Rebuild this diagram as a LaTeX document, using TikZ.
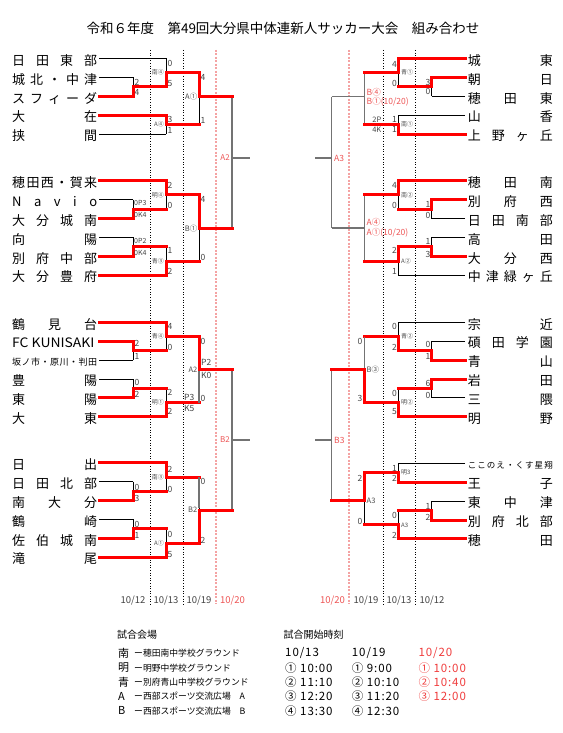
\documentclass[tikz,border=0pt]{standalone}
\usepackage{fontspec}
\setmainfont{Noto Sans CJK JP}
\usetikzlibrary{calc}
\definecolor{lred}{HTML}{FF0000}
\definecolor{pinkr}{HTML}{F4A3A3}
\definecolor{lblred}{HTML}{EE5555}
\definecolor{legred}{HTML}{F03C3C}
\definecolor{scg}{HTML}{444444}
\newcounter{nn}
\newcommand\jst[2]{\hbox to #1{#2}}
\newcommand\lab[3]{\stepcounter{nn}\node[#1] (n\arabic{nn}) at (#2) {#3};}
\newcommand\scL[3]{\lab{scl}{#1,#2}{#3}}
\newcommand\scR[3]{\lab{scr}{#1,#2}{#3}}
\newcommand\tmL[3]{\node[tname,anchor=west] (t#1) at (12,#2+1.8) {\jst{85pt}{#3}}; \coordinate (#1) at (99,#2);}
\newcommand\tmR[3]{\node[tname,anchor=east] (t#1) at (553,#2+1.8) {\jst{85pt}{#3}}; \coordinate (#1) at (465,#2);}
% match macros: #1 name, #2 X, #3 yout, #4 top src, #5 top hstyle, #6 bot src, #7 bot hstyle
\newcommand\mT[7]{%
  \coordinate (#1) at (#2,#3);
  \draw[L] (#6 -| #1) -- (#1);
  \draw[#7] (#6) -- (#6 -| #1);
  \draw[#5] (#4) -- (#4 -| #1);
  \draw[W] (#4 -| #1) -- (#1);}
\newcommand\mB[7]{%
  \coordinate (#1) at (#2,#3);
  \draw[L] (#4 -| #1) -- (#1);
  \draw[#5] (#4) -- (#4 -| #1);
  \draw[#7] (#6) -- (#6 -| #1);
  \draw[W] (#6 -| #1) -- (#1);}
\newcommand\mU[7]{%
  \coordinate (#1) at (#2,#3);
  \draw[G] (#4 -| #1) -- (#6 -| #1);
  \draw[#5] (#4) -- (#4 -| #1);
  \draw[#7] (#6) -- (#6 -| #1);}
\tikzset{
 W/.style={draw=lred, line width=3pt, line cap=rect},
 L/.style={draw=black, line width=0.9pt},
 G/.style={draw=black!55, line width=1.1pt},
 dotk/.style={draw=black, line width=0.8pt, dash pattern=on 1pt off 1.6pt},
 dotr/.style={draw=pinkr, line width=1.8pt, dash pattern=on 2pt off 1.5pt},
 tname/.style={inner sep=0pt, font=\fontsize{13}{13}\selectfont},
 scl/.style={inner sep=0pt, anchor=west, text=scg, font=\fontsize{8.5}{8.5}\selectfont},
 scr/.style={inner sep=0pt, anchor=east, text=scg, font=\fontsize{8.5}{8.5}\selectfont},
 pkl/.style={inner sep=0pt, anchor=west, text=scg, font=\fontsize{7}{7}\selectfont},
 pkr/.style={inner sep=0pt, anchor=east, text=scg, font=\fontsize{7.5}{7.5}\selectfont},
 tgl/.style={inner sep=0pt, anchor=east, text=black!70, font=\fontsize{6}{6}\selectfont},
 tgr/.style={inner sep=0pt, anchor=west, text=black!70, font=\fontsize{6}{6}\selectfont},
 tgL/.style={inner sep=0pt, anchor=east, text=black!70, font=\fontsize{7.5}{7.5}\selectfont},
 tgR/.style={inner sep=0pt, anchor=west, text=black!70, font=\fontsize{7.5}{7.5}\selectfont},
 rtl/.style={inner sep=0pt, anchor=east, text=lblred, font=\fontsize{8}{8}\selectfont},
 rtr/.style={inner sep=0pt, anchor=west, text=lblred, font=\fontsize{8.5}{8.5}\selectfont},
 date/.style={inner sep=0pt, text=scg, font=\fontsize{9.5}{9.5}\selectfont},
 leg/.style={inner sep=0pt, anchor=west, font=\fontsize{10}{10}\selectfont},
 vsym/.style={inner sep=0pt, anchor=west, font=\fontsize{11}{11}\selectfont},
 vtxt/.style={inner sep=0pt, anchor=west, font=\fontsize{8.8}{8.8}\selectfont},
 tim/.style={inner sep=0pt, anchor=west, font=\fontsize{11.5}{11.5}\selectfont\addfontfeatures{LetterSpace=8}},
}
\begin{document}
\begin{tikzpicture}[x=1pt,y=-1pt]
\fill[white] (0,0) rectangle (562,733);
\useasboundingbox (0,0) rectangle (562,733);
% title
\node[inner sep=0pt, font=\fontsize{13.5}{13.5}\selectfont] (title) at (283,28) {令和６年度　第49回大分県中体連新人サッカー大会　組み合わせ};
% dotted day lines
\foreach \xx in {150,183,383,415} {\draw[dotk] (\xx,50) -- (\xx,604);}
\foreach \xx in {216,349} {\draw[dotr] (\xx,50) -- (\xx,604);}
% left teams
\tmL{L1}{58.5}{日\hfill 田\hfill 東\hfill 部}
\tmL{L2}{77.4}{城\hfill 北\hfill ・\hfill 中\hfill 津}
\tmL{L3}{96.3}{ス\hfill フ\hfill ィ\hfill ー\hfill ダ}
\tmL{L4}{115.2}{大\hfill 在}
\tmL{L5}{134.1}{挟\hfill 間}
\tmL{L6}{180.7}{穂\hfill 田\hfill 西\hfill ・\hfill 賀\hfill 来}
\tmL{L7}{199.6}{N\hfill a\hfill v\hfill i\hfill o}
\tmL{L8}{218.5}{大\hfill 分\hfill 城\hfill 南}
\tmL{L9}{237.4}{向\hfill 陽}
\tmL{L10}{256.3}{別\hfill 府\hfill 中\hfill 部}
\tmL{L11}{275.2}{大\hfill 分\hfill 豊\hfill 府}
\tmL{L12}{322.3}{鶴\hfill 見\hfill 台}
\tmL{L13}{341.2}{\scalebox{1.07}[1]{FC KUNISAKI}\hfill}
\tmL{L14}{360.1}{\fontsize{9}{9}\selectfont 坂\hfill ノ\hfill 市\hfill ・\hfill 原\hfill 川\hfill ・\hfill 判\hfill 田}
\tmL{L15}{379}{豊\hfill 陽}
\tmL{L16}{397.9}{東\hfill 陽}
\tmL{L17}{416.8}{大\hfill 東}
\tmL{L18}{462.7}{日\hfill 出}
\tmL{L19}{481.6}{日\hfill 田\hfill 北\hfill 部}
\tmL{L20}{500.5}{南\hfill 大\hfill 分}
\tmL{L21}{519.4}{鶴\hfill 崎}
\tmL{L22}{538.3}{佐\hfill 伯\hfill 城\hfill 南}
\tmL{L23}{557.2}{滝\hfill 尾}
% right teams
\tmR{R1}{58.5}{城\hfill 東}
\tmR{R2}{77.4}{朝\hfill 日}
\tmR{R3}{96.3}{穂\hfill 田\hfill 東}
\tmR{R4}{115.2}{山\hfill 香}
\tmR{R5}{134.1}{上\hfill 野\hfill ヶ\hfill 丘}
\tmR{R6}{180.7}{穂\hfill 田\hfill 南}
\tmR{R7}{199.6}{別\hfill 府\hfill 西}
\tmR{R8}{218.5}{日\hfill 田\hfill 南\hfill 部}
\tmR{R9}{237.4}{高\hfill 田}
\tmR{R10}{256.3}{大\hfill 分\hfill 西}
\tmR{R11}{275.2}{中\hfill 津\hfill 緑\hfill ヶ\hfill 丘}
\tmR{R12}{322.3}{宗\hfill 近}
\tmR{R13}{341.2}{碩\hfill 田\hfill 学\hfill 園}
\tmR{R14}{360.1}{青\hfill 山}
\tmR{R15}{379}{岩\hfill 田}
\tmR{R16}{397.9}{三\hfill 隈}
\tmR{R17}{416.8}{明\hfill 野}
\tmR{R18}{463.3}{\fontsize{8.5}{8.5}\selectfont こ\hfill こ\hfill の\hfill え\hfill ・\hfill く\hfill す\hfill 星\hfill 翔}
\tmR{R19}{482.2}{王\hfill 子}
\tmR{R20}{501.1}{東\hfill 中\hfill 津}
\tmR{R21}{520}{別\hfill 府\hfill 北\hfill 部}
\tmR{R22}{538.9}{穂\hfill 田}
% left matches
\mB{mL1}{133}{86.8}{L2}{L}{L3}{W}
\mB{mL2}{166}{72.7}{L1}{L}{mL1}{W}
\mT{mL3}{166}{124.6}{L4}{W}{L5}{L}
\mT{mL4}{199}{96.5}{mL2}{W}{mL3}{W}
\mB{mL5}{133}{209}{L7}{L}{L8}{W}
\mT{mL6}{166}{194.8}{L6}{W}{mL5}{W}
\mB{mL7}{133}{246.8}{L9}{L}{L10}{W}
\mB{mL8}{166}{261}{mL7}{W}{L11}{W}
\mT{mL9}{199}{228}{mL6}{W}{mL8}{W}
\mT{mL10}{133}{350.6}{L13}{W}{L14}{L}
\mT{mL11}{166}{336.5}{L12}{W}{mL10}{W}
\mB{mL12}{133}{388.4}{L15}{L}{L16}{W}
\mB{mL13}{166}{402.6}{mL12}{W}{L17}{W}
\mT{mL14}{199}{369.5}{mL11}{W}{mL13}{W}
\mB{mL15}{133}{491}{L19}{L}{L20}{W}
\mT{mL16}{166}{477}{L18}{W}{mL15}{W}
\mB{mL17}{133}{528.9}{L21}{L}{L22}{W}
\mB{mL18}{166}{543}{mL17}{W}{L23}{W}
\mB{mL19}{199}{510}{mL16}{W}{mL18}{W}
\draw[draw=white, line width=1.1pt, shorten >=1.6pt] (mL13 -| mL14) -- (mL14);
\draw[G, shorten >=1.6pt] (mL13 -| mL14) -- (mL14);
\draw[draw=white, line width=1.1pt, shorten >=1.6pt] (mL16 -| mL19) -- (mL19);
\draw[G, shorten >=1.6pt] (mL16 -| mL19) -- (mL19);
\mU{sL1}{232}{158}{mL4}{W}{mL9}{W}
\mU{sL2}{232}{440}{mL14}{W}{mL19}{W}
\coordinate (eL1) at (250,158);
\coordinate (eL2) at (250,440);
\draw[G] (sL1) -- (eL1);
\draw[G] (sL2) -- (eL2);
% right matches
\mT{mR1}{431.7}{86.8}{R2}{W}{R3}{L}
\mT{mR2}{398.3}{72.7}{R1}{W}{mR1}{W}
\mB{mR3}{398.3}{124.6}{R4}{L}{R5}{W}
\mU{mR4}{364.3}{96.7}{mR2}{W}{mR3}{W}
\mT{mR5}{431.7}{209}{R7}{W}{R8}{L}
\mT{mR6}{398.3}{194.8}{R6}{W}{mR5}{W}
\mB{mR7}{431.7}{246.8}{R9}{L}{R10}{W}
\mT{mR8}{398.3}{261}{mR7}{W}{R11}{L}
\mU{mR9}{364.3}{228}{mR6}{W}{mR8}{W}
\mB{mR10}{431.7}{350.6}{R13}{L}{R14}{W}
\mB{mR11}{398.3}{336.5}{R12}{L}{mR10}{W}
\mT{mR12}{431.7}{388.4}{R15}{W}{R16}{L}
\mB{mR13}{398.3}{402.6}{mR12}{W}{R17}{W}
\mB{mR14}{364.3}{369.5}{mR11}{W}{mR13}{W}
\draw[draw=white, line width=1.1pt, shorten >=1.6pt] (mR11 -| mR14) -- (mR14);
\draw[G, shorten >=1.6pt] (mR11 -| mR14) -- (mR14);
\mB{mR15}{398.3}{472.7}{R18}{L}{R19}{W}
\mB{mR16}{431.7}{510.5}{R20}{L}{R21}{W}
\mB{mR17}{398.3}{524.7}{mR16}{W}{R22}{W}
\mT{mR18}{364.3}{500.7}{mR15}{W}{mR17}{W}
\mU{sR1}{331.7}{158}{mR4}{G}{mR9}{G}
\mU{sR2}{331.7}{440}{mR14}{W}{mR18}{W}
\coordinate (eR1) at (315,158);
\coordinate (eR2) at (315,440);
\draw[G] (sR1) -- (eR1);
\draw[G] (sR2) -- (eR2);
% left scores
\scL{134.5}{82}{2} \scL{134.5}{92.7}{4}
\scL{167.5}{63.3}{0} \scL{167.5}{83.3}{5}
\scL{167.5}{119.3}{3} \scL{167.5}{130}{1}
\scL{200.5}{77.3}{4} \scL{200.5}{120}{1}
\scL{167.5}{185}{2} \scL{167.5}{205.7}{0}
\lab{pkl}{134,203.3}{0P3} \lab{pkl}{134,215}{0K4}
\lab{pkl}{134,241}{0P2} \lab{pkl}{134,252.7}{0K4}
\scL{167.5}{250.7}{1} \scL{167.5}{271.7}{2}
\scL{200.5}{199.3}{4} \scL{200.5}{257.3}{0}
\scL{134.5}{343.3}{2} \scL{134.5}{356.7}{1}
\scL{167.5}{326.7}{4} \scL{167.5}{347.7}{0}
\scL{134.5}{382.7}{0} \scL{134.5}{394}{2}
\scL{167.5}{392.7}{2} \scL{167.5}{411.7}{2}
\scL{200.5}{341.7}{0} \scL{200.5}{398.3}{0}
\scL{201}{362}{P2} \scL{201}{375}{K0}
\scL{184}{397}{P3} \scL{184}{408}{K5}
\scL{167.5}{469}{2} \scL{167.5}{489}{0}
\scL{134.5}{487.7}{0} \scL{134.5}{498.3}{3}
\scL{134.5}{524.3}{0} \scL{134.5}{535.3}{1}
\scL{167.5}{534.3}{0} \scL{167.5}{555}{5}
\scL{200.5}{481.7}{0} \scL{200.5}{540.7}{2}
% right scores
\scR{397}{64}{4} \scR{397}{83.3}{0}
\scR{430.5}{82.3}{3} \scR{430.5}{91.7}{0}
\scR{397}{119.3}{1} \scR{397}{129.3}{1}
\lab{pkr}{381.5,119.3}{2P} \lab{pkr}{381.5,130}{4K}
\scR{397}{185}{4} \scR{397}{205.7}{0}
\scR{430.5}{204}{1} \scR{430.5}{215}{0}
\scR{430.5}{241.7}{1} \scR{430.5}{254}{3}
\scR{397}{250.7}{2} \scR{397}{271.7}{1}
\scR{397}{326.7}{0} \scR{397}{347.7}{2}
\scR{430.5}{344.3}{0} \scR{430.5}{356}{1}
\scR{430.5}{383.3}{6} \scR{430.5}{395}{0}
\scR{397}{393.3}{0} \scR{397}{411.7}{5}
\scR{362.5}{341.7}{0} \scR{362.5}{398.3}{3}
\scR{397}{468.3}{1} \scR{397}{478.3}{2}
\scR{430.5}{506}{1} \scR{430.5}{517.3}{2}
\scR{397}{515.7}{0} \scR{397}{535}{2}
\scR{362.5}{478.3}{2} \scR{362.5}{521.7}{0}
% match tags left
\lab{tgl}{164,72.7}{南④} \lab{tgl}{164,124.6}{A④} \lab{tgL}{197.5,96.5}{A①}
\lab{tgl}{164,194.8}{明④} \lab{tgl}{164,261}{青③} \lab{tgL}{197.5,228.5}{B①}
\lab{tgl}{164,336.5}{青④} \lab{tgl}{164,402}{明①} \lab{tgL}{197.5,369.5}{A2}
\lab{tgl}{164,477}{南③} \lab{tgl}{164,543.5}{A①} \lab{tgL}{197.5,509.5}{B2}
% match tags right
\lab{tgr}{401,72.7}{青①} \lab{tgr}{401,124.6}{南①}
\lab{tgr}{401,194.8}{南②} \lab{tgr}{401,261}{A②}
\lab{tgr}{401,336.5}{青②} \lab{tgr}{401,402.6}{明②}
\lab{tgr}{401,472.7}{明3} \lab{tgr}{401,525}{A3}
\lab{tgR}{366.5,369.5}{B③} \lab{tgR}{366.5,500.7}{A3}
% red tags
\lab{rtl}{230,158}{A2} \lab{rtl}{230,440}{B2}
\lab{rtr}{334,158}{A3} \lab{rtr}{334,440}{B3}
\lab{rtr}{366.5,92.7}{B④} \lab{rtr}{366.5,101.7}{B①(10/20)}
\lab{rtr}{366.5,222.7}{A④} \lab{rtr}{366.5,232.7}{A①(10/20)}
% dates
\lab{date}{133,601}{10/12} \lab{date}{166,601}{10/13} \lab{date}{199,601}{10/19}
\lab{date,text=lblred}{232.5,601}{10/20}
\lab{date,text=lblred}{332.5,601}{10/20}
\lab{date}{366,601}{10/19} \lab{date}{399,601}{10/13} \lab{date}{432,601}{10/12}
% legend
\lab{leg}{117,635}{試合会場}
\lab{leg}{283.5,635}{試合開始時刻}
\lab{vsym}{118,653.3}{南} \lab{vtxt}{134,653.3}{ー穂田南中学校グラウンド}
\lab{vsym}{118,667.7}{明} \lab{vtxt}{134,667.7}{ー明野中学校グラウンド}
\lab{vsym}{118,682.1}{青} \lab{vtxt}{134,682.1}{ー別府青山中学校グラウンド}
\lab{vsym}{118,696.5}{A} \lab{vtxt}{134,696.5}{ー西部スポーツ交流広場　A}
\lab{vsym}{118,710.9}{B} \lab{vtxt}{134,710.9}{ー西部スポーツ交流広場　B}
\lab{tim}{285,653.3}{10/13} \lab{tim}{285,667.7}{① 10:00} \lab{tim}{285,682.1}{② 11:10} \lab{tim}{285,696.5}{③ 12:20} \lab{tim}{285,710.9}{④ 13:30}
\lab{tim}{351.7,653.3}{10/19} \lab{tim}{351.7,667.7}{① 9:00} \lab{tim}{351.7,682.1}{② 10:10} \lab{tim}{351.7,696.5}{③ 11:20} \lab{tim}{351.7,710.9}{④ 12:30}
\lab{tim,text=legred}{418.3,653.3}{10/20} \lab{tim,text=legred}{418.3,667.7}{① 10:00} \lab{tim,text=legred}{418.3,682.1}{② 10:40} \lab{tim,text=legred}{418.3,696.5}{③ 12:00}
\end{tikzpicture}
\end{document}
